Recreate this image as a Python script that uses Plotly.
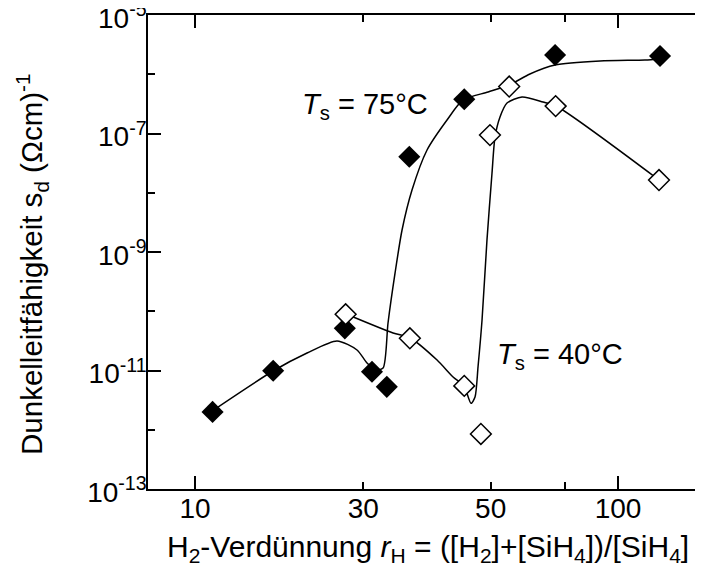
"""Dark conductivity vs. hydrogen dilution for two substrate temperatures."""

import math

import plotly.graph_objects as go

INK = "#000000"
FONT = '"Liberation Sans", Arial, Helvetica, sans-serif'

# --- measured points (r_H, sigma_d in (Ohm cm)^-1) ---
R_75 = [11.0, 15.3, 22.6, 26.2, 28.4, 32.1, 43.3, 71.0, 125.7]
S_75 = [2.0e-12, 9.9e-12, 5.15e-11, 9.5e-12, 5.3e-12, 4.06e-8, 3.78e-7, 2.11e-6, 2.03e-6]

R_40 = [22.7, 32.2, 43.3, 47.4, 49.8, 55.3, 71.2, 125.0]
S_40 = [8.9e-11, 3.5e-11, 5.5e-12, 8.5e-13, 9.4e-8, 6.2e-7, 2.9e-7, 1.64e-8]

# --- hand-drawn guide curves, nodes ---
GUIDE_R_75 = [10.97, 15.29, 18.40, 21.66, 24.15, 25.50, 26.79, 27.83, 28.59, 29.71,
              30.86, 32.58, 35.36, 39.42, 43.02, 49.3, 55.3, 61.9, 71.0, 90.7,
              115.8, 125.7]
GUIDE_S_75 = [2.07e-12, 9.8e-12, 1.97e-11, 3.15e-11, 2.22e-11, 1.34e-11, 1.02e-11,
              1.10e-11, 6.34e-11, 4.43e-10, 2.35e-9, 1.11e-8, 5.27e-8, 1.69e-7,
              3.68e-7, 5.02e-7, 6.58e-7, 1.01e-6, 1.43e-6, 1.67e-6, 1.74e-6, 1.81e-6]

GUIDE_R_40 = [22.75, 29.39, 32.24, 37.34, 40.74, 43.24, 44.93, 45.91, 46.67, 47.70,
              49.0, 50.36, 51.19, 52.6, 54.64, 59.3, 66.5, 71.35, 125.0]
GUIDE_S_40 = [9.0e-11, 4.30e-11, 3.54e-11, 1.50e-11, 7.76e-12, 5.47e-12, 2.79e-12,
              3.57e-12, 1.15e-11, 7.11e-11, 1.60e-9, 2.15e-8, 8.73e-8, 1.90e-7,
              3.27e-7, 4.13e-7, 3.40e-7, 2.91e-7, 1.64e-8]

# --- axes ---
X_LIMITS = [7.74, 165.0]
X_TICKS = [10, 25, 50, 75, 100]
X_TICK_TEXT = ["10", "30", "50", "", "100"]
X_MAJOR = [10, 100]

Y_LIMITS = [1e-13, 1e-5]
Y_TICKS = [10.0 ** e for e in range(-13, -4)]
Y_TICK_TEXT = ["10<sup>%d</sup>" % e if e % 2 else "" for e in range(-13, -4)]
Y_MAJOR = [10.0 ** e for e in range(-13, -4, 2)]

X_RANGE = [math.log10(v) for v in X_LIMITS]
Y_RANGE = [math.log10(v) for v in Y_LIMITS]


def _axis(rng, **kw):
    return dict(type="log", range=rng, showgrid=False, zeroline=False,
                automargin=False, ticks="inside", tickwidth=1.5, tickcolor=INK,
                **kw)


fig = go.Figure()
line = dict(color=INK, width=1.5, shape="spline", smoothing=0.7)
fig.add_trace(go.Scatter(x=GUIDE_R_75, y=GUIDE_S_75, mode="lines", line=line,
                         hoverinfo="skip"))
fig.add_trace(go.Scatter(x=GUIDE_R_40, y=GUIDE_S_40, mode="lines", line=line,
                         hoverinfo="skip"))
fig.add_trace(go.Scatter(
    x=R_75, y=S_75, mode="markers", name="Ts = 75°C",
    marker=dict(symbol="diamond", size=17, color=INK, line=dict(width=0)),
))
fig.add_trace(go.Scatter(
    x=R_40, y=S_40, mode="markers", name="Ts = 40°C",
    marker=dict(symbol="diamond", size=16, color="white",
                line=dict(color=INK, width=1.5)),
))
# empty trace so the long-tick overlay axes get drawn
fig.add_trace(go.Scatter(x=[], y=[], xaxis="x2", yaxis="y2", hoverinfo="skip"))

# the page body adds an 8px offset, so the frame sits at 140/7 inside the figure
fig.update_layout(
    width=703, height=572,
    paper_bgcolor="white", plot_bgcolor="white",
    font=dict(family=FONT, size=28, color=INK),
    margin=dict(l=140, r=1, t=7, b=91, autoexpand=False),
    showlegend=False,
    xaxis=_axis(X_RANGE, tickmode="array", tickvals=X_TICKS, ticktext=X_TICK_TEXT,
                ticklen=7, showline=True, linecolor=INK, linewidth=1.5,
                mirror="ticks", tickfont=dict(size=28), ticklabelstandoff=-6),
    yaxis=_axis(Y_RANGE, tickmode="array", tickvals=Y_TICKS, ticktext=Y_TICK_TEXT,
                ticklen=7, showline=True, linecolor=INK, linewidth=1.5,
                mirror="ticks", tickfont=dict(size=28), ticklabelstandoff=-6,
                ticklabelshift=3, ticklabeloverflow="allow"),
    xaxis2=_axis(X_RANGE, overlaying="x", anchor="y", side="bottom",
                 tickmode="array", tickvals=X_MAJOR, ticklen=13,
                 showticklabels=False, showline=False, mirror="ticks"),
    yaxis2=_axis(Y_RANGE, overlaying="y", anchor="x", side="left",
                 tickmode="array", tickvals=Y_MAJOR, ticklen=13,
                 showticklabels=False, showline=False, mirror="ticks"),
)

label = dict(xref="paper", yref="paper", showarrow=False, xanchor="left",
             yanchor="middle", font=dict(size=29))
fig.add_annotation(text="<i>T</i><sub>s</sub> = 75°C", x=0.2705, y=0.808, **label)
fig.add_annotation(text="<i>T</i><sub>s</sub> = 40°C", x=0.6174, y=0.281, **label)

# axis titles
fig.add_annotation(
    text="H<sub>2</sub>-Verdünnung <i>r</i><sub>H</sub> = ([H<sub>2</sub>]+[SiH<sub>4</sub>])/[SiH<sub>4</sub>]",
    xref="paper", yref="paper", x=0.498, y=-0.126, showarrow=False,
    xanchor="center", yanchor="middle", font=dict(size=30),
)
fig.add_annotation(
    text="Dunkelleitfähigkeit s<sub>d</sub> (Ωcm)<sup>-1</sup>",
    xref="paper", yref="paper", x=-0.2064, y=0.4726, textangle=-90,
    showarrow=False, xanchor="center", yanchor="middle", font=dict(size=29.5),
)

fig.write_html("out.html")
